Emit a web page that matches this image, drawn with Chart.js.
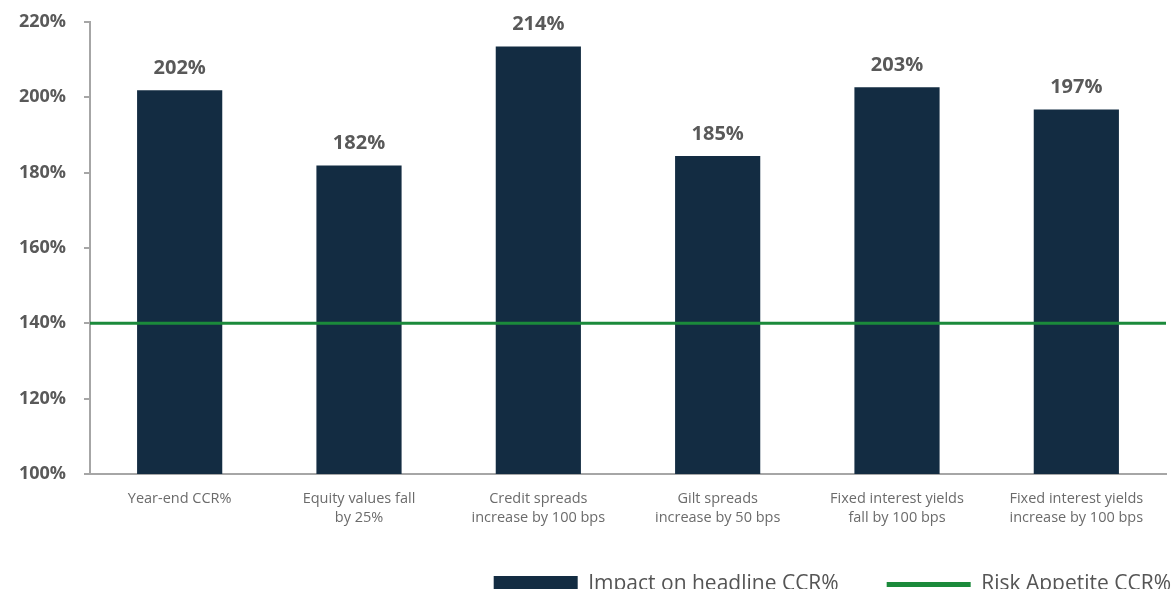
<!DOCTYPE html>
<html>
<head>
<meta charset="utf-8">
<script src="https://cdn.jsdelivr.net/npm/chart.js@4/dist/chart.umd.min.js"></script>
<style>
  html, body { margin: 0; padding: 0; background: #fff; overflow: hidden; }
  #wrap { width: 1173px; height: 605px; }
</style>
</head>
<body>
<div id="wrap"><canvas id="ccr-chart"></canvas></div>
<script>
const categories = [
    'Year-end CCR%',
    ['Equity values fall', 'by 25%'],
    ['Credit spreads', 'increase by 100 bps'],
    ['Gilt spreads', 'increase by 50 bps'],
    ['Fixed interest yields', 'fall by 100 bps'],
    ['Fixed interest yields', 'increase by 100 bps']
];
const ccrValues = [201.9, 181.9, 213.5, 184.4, 202.7, 196.8];
const ccrLabels = ['202%', '182%', '214%', '185%', '203%', '197%'];
const riskAppetite = 140;
const yTicks = [100, 120, 140, 160, 180, 200, 220];

const navy = '#132c42';
const green = '#1b8a3b';
const grey = '#a6a6a6';
const font = '"Open Sans", Lato, sans-serif';

// prints the value above each bar
const barLabels = {
    id: 'barLabels',
    afterDatasetsDraw(chart) {
        const ctx = chart.ctx;
        const meta = chart.getDatasetMeta(0);
        ctx.save();
        ctx.font = 'bold 20px ' + font;
        ctx.fillStyle = '#595959';
        ctx.textAlign = 'center';
        ctx.textBaseline = 'middle';
        meta.data.forEach((bar, i) => {
            ctx.fillText(ccrLabels[i], bar.x, bar.y - 22);
        });
        ctx.restore();
    }
};

// legend sits flush with the right edge like the original
const legendShift = {
    id: 'legendShift',
    afterLayout(chart) {
        chart.legend.left += 53;
        chart.legend.right += 53;
    }
};

const ctx = document.getElementById('ccr-chart').getContext('2d');
window.myChart = new Chart(ctx, {
    type: 'bar',
    data: {
        labels: categories,
        datasets: [{
            label: 'Impact on headline CCR%',
            data: ccrValues,
            backgroundColor: navy,
            borderWidth: 0,
            grouped: false,
            categoryPercentage: 0.5,
            barPercentage: 0.95,
            order: 1
        }, {
            type: 'line',
            label: 'Risk Appetite CCR%',
            data: [{ x: 0, y: riskAppetite }, { x: 1, y: riskAppetite }],
            xAxisID: 'x2',
            borderColor: green,
            backgroundColor: green,
            borderWidth: 3,
            pointRadius: 0,
            order: 0
        }]
    },
    options: {
        responsive: true,
        maintainAspectRatio: false,
        animation: false,
        layout: { padding: { top: 22, right: 7, left: 0, bottom: 0 } },
        plugins: {
            tooltip: { enabled: false },
            legend: {
                position: 'bottom',
                align: 'end',
                labels: {
                    usePointStyle: true,
                    pointStyleWidth: 84,
                    boxWidth: 84,
                    boxHeight: 17,
                    padding: 48,
                    color: '#555555',
                    font: { family: font, size: 21 },
                    generateLabels(chart) {
                        return [{
                            text: 'Impact on headline CCR%',
                            fillStyle: navy,
                            strokeStyle: navy,
                            lineWidth: 0,
                            pointStyle: 'rect',
                            datasetIndex: 0,
                            fontColor: '#555555'
                        }, {
                            text: 'Risk Appetite CCR%',
                            fillStyle: green,
                            strokeStyle: green,
                            lineWidth: 5,
                            pointStyle: 'line',
                            datasetIndex: 1,
                            fontColor: '#555555'
                        }];
                    }
                }
            }
        },
        scales: {
            x: {
                grid: { display: false },
                border: { color: grey, width: 2 },
                ticks: {
                    color: '#6b6b6b',
                    font: { family: font, size: 14.5, lineHeight: 1.35 },
                    maxRotation: 0,
                    autoSkip: false,
                    padding: 7
                },
                afterFit(scale) { scale.height = 52; }
            },
            x2: {
                type: 'linear',
                min: 0,
                max: 1,
                offset: false,
                display: false
            },
            y: {
                min: 100,
                max: 220,
                afterBuildTicks(scale) {
                    scale.ticks = yTicks.map(v => ({ value: v }));
                },
                grid: {
                    drawOnChartArea: false,
                    drawTicks: true,
                    tickLength: 6,
                    color: grey,
                    lineWidth: 2
                },
                border: { color: grey, width: 2 },
                ticks: {
                    color: '#595959',
                    font: { family: font, size: 18, weight: 'bold' },
                    padding: 18,
                    callback: v => v + '%'
                },
                afterFit(scale) {
                    scale.width = 90;
                    scale.paddingTop = 0;
                    scale.paddingBottom = 0;
                }
            }
        }
    },
    plugins: [barLabels, legendShift]
});
</script>
</body>
</html>
